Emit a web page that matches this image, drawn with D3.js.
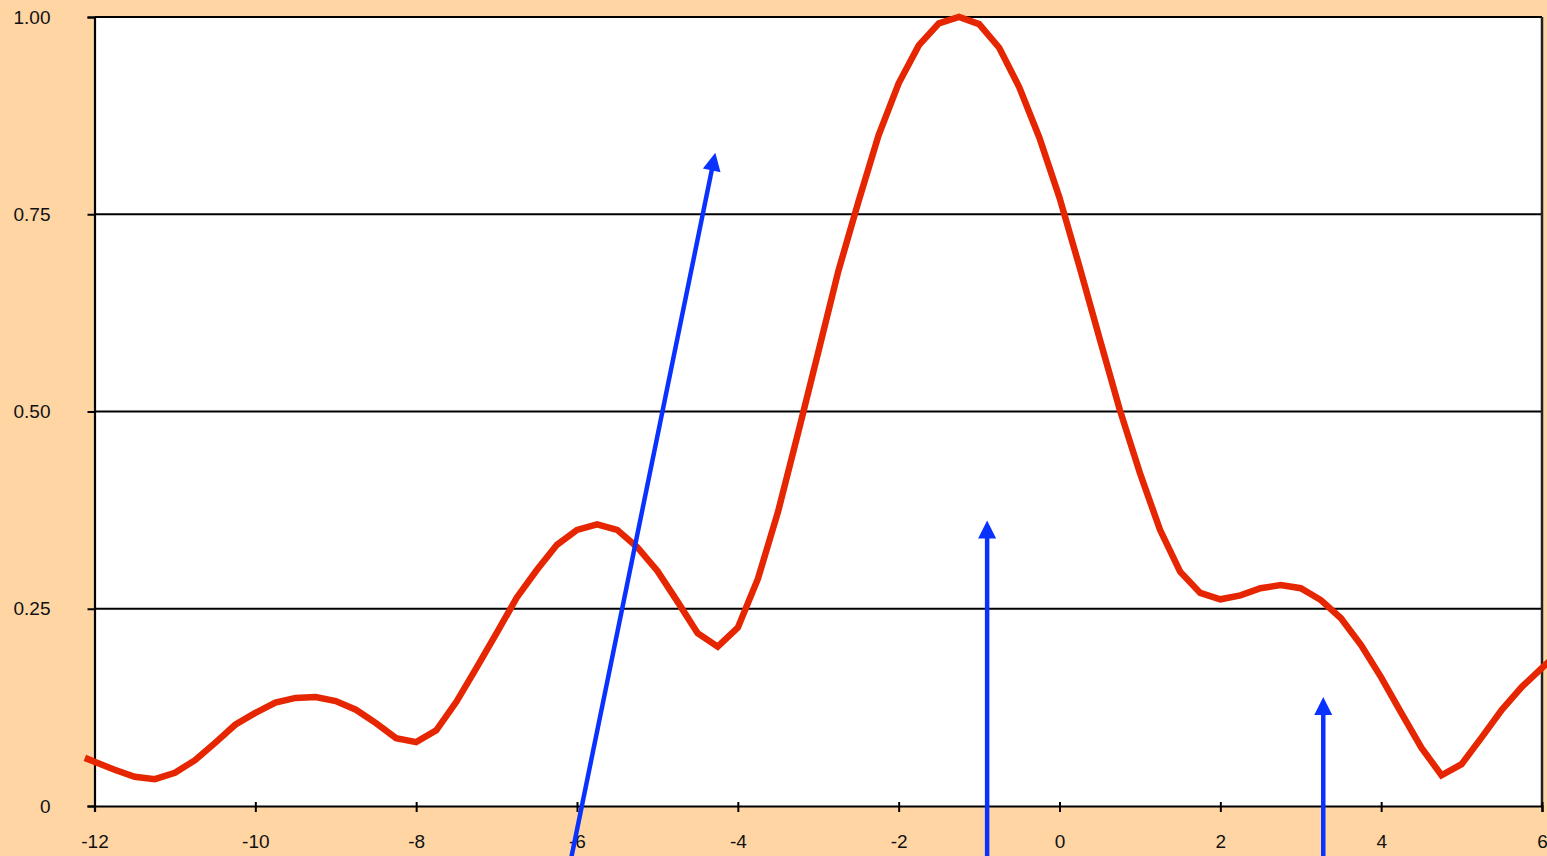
<!DOCTYPE html>
<html>
<head>
<meta charset="utf-8">
<script src="https://cdn.jsdelivr.net/npm/d3@7"></script>
<style>
  html, body { margin: 0; padding: 0; background: #FFD5A4; }
  svg { display: block; }
  .tick text { font-family: "Liberation Sans", Arial, sans-serif; font-size: 19px; fill: #111; }
</style>
</head>
<body>
<div id="chart"></div>
<script>
// chart size
var width = 1547, height = 856;
var margin = {top: 17, right: 5, bottom: 50, left: 94.5};

// the curve: x in steps of 0.25 from -12 to 6, plus the two ends that run past the frame
var curveX = [-12.12];
for (var i = 0; i <= 73; i++) curveX.push(-12 + 0.25 * i);
var curveY = [0.061,
  0.056, 0.046, 0.037, 0.034, 0.042, 0.058, 0.080, 0.103, 0.118, 0.131,
  0.137, 0.138, 0.133, 0.122, 0.105, 0.086, 0.081, 0.096, 0.132, 0.175,
  0.219, 0.264, 0.299, 0.331, 0.350, 0.357, 0.350, 0.328, 0.298, 0.259,
  0.219, 0.202, 0.226, 0.288, 0.373, 0.473, 0.575, 0.678, 0.766, 0.850,
  0.916, 0.964, 0.992, 1.000, 0.991, 0.961, 0.911, 0.847, 0.771, 0.683,
  0.592, 0.502, 0.422, 0.350, 0.297, 0.270, 0.262, 0.267, 0.276, 0.280,
  0.276, 0.261, 0.238, 0.204, 0.163, 0.118, 0.074, 0.039, 0.053, 0.087,
  0.122, 0.151, 0.175, 0.198];

// blue arrows (tail -> tip)
var arrowX0 = [-6.08, -0.90, 3.28];
var arrowY0 = [-0.07, -0.07, -0.07];
var arrowX1 = [-4.28, -0.90, 3.28];
var arrowY1 = [0.828, 0.362, 0.138];

// ticks
var xTicks = [-12, -10, -8, -6, -4, -2, 0, 2, 4, 6];
var yTicks = [0, 0.25, 0.5, 0.75, 1];
var gridValues = [0.25, 0.5, 0.75, 1];

var x = d3.scaleLinear().domain([-12, 6]).range([margin.left, width - margin.right]);
var y = d3.scaleLinear().domain([0, 1]).range([height - margin.bottom, margin.top]);

var svg = d3.select("#chart").append("svg")
    .attr("width", width)
    .attr("height", height);

// plot area
svg.append("rect")
    .attr("x", x(-12)).attr("y", y(1))
    .attr("width", x(6) - x(-12)).attr("height", y(0) - y(1))
    .style("fill", "white");

// gridlines
svg.append("g").selectAll("line")
    .data(gridValues)
    .enter().append("line")
    .attr("x1", x(-12)).attr("x2", x(6))
    .attr("y1", function(d) { return y(d); })
    .attr("y2", function(d) { return y(d); })
    .style("stroke", "black")
    .style("stroke-width", 2.2);

// right border of plot area
svg.append("line")
    .attr("x1", x(6)).attr("x2", x(6))
    .attr("y1", y(1)).attr("y2", y(0))
    .style("stroke", "#222")
    .style("stroke-width", 2.5);

// y axis
var yAxis = d3.axisLeft(y)
    .tickValues(yTicks)
    .tickSize(7)
    .tickFormat(function(d) { return d === 0 ? "0" : d3.format(".2f")(d); });

svg.append("g")
    .attr("transform", "translate(" + x(-12) + ",0)")
    .call(yAxis)
    .call(function(g) {
        g.select(".domain").style("stroke", "black").style("stroke-width", 2.2);
        g.selectAll(".tick line").style("stroke", "black").style("stroke-width", 2);
        g.selectAll(".tick text").attr("x", -44).style("text-anchor", "end");
    });

// x axis (plain hyphen for negatives, like the original)
var xAxis = d3.axisBottom(x)
    .tickValues(xTicks)
    .tickSize(6)
    .tickFormat(function(d) { return String(d); });

svg.append("g")
    .attr("transform", "translate(0," + y(0) + ")")
    .call(xAxis)
    .call(function(g) {
        g.select(".domain").style("stroke", "black").style("stroke-width", 2.2);
        g.selectAll(".tick line").attr("y1", -4).style("stroke", "black").style("stroke-width", 2);
        g.selectAll(".tick text").attr("y", 29).attr("dy", "0.71em");
    });

// red curve
var pts = curveX.map(function(d, i) { return [d, curveY[i]]; });
var line = d3.line()
    .x(function(d) { return x(d[0]); })
    .y(function(d) { return y(d[1]); });

svg.append("path")
    .datum(pts)
    .attr("d", line)
    .style("fill", "none")
    .style("stroke", "#E62600")
    .style("stroke-width", 6.5)
    .style("stroke-linejoin", "miter");

// blue arrows
var headLen = 18, headHalf = 9;
var arrows = arrowX0.map(function(d, i) {
    return {x0: x(d), y0: y(arrowY0[i]), x1: x(arrowX1[i]), y1: y(arrowY1[i])};
});

var ag = svg.append("g").attr("class", "arrows");
arrows.forEach(function(a) {
    var dx = a.x1 - a.x0, dy = a.y1 - a.y0;
    var len = Math.sqrt(dx * dx + dy * dy);
    var ux = dx / len, uy = dy / len;
    var bx = a.x1 - ux * headLen, by = a.y1 - uy * headLen;
    ag.append("line")
        .attr("x1", a.x0).attr("y1", a.y0)
        .attr("x2", bx + ux * 2).attr("y2", by + uy * 2)
        .style("stroke", "#0A32FF")
        .style("stroke-width", 4.5);
    ag.append("path")
        .attr("d", "M" + a.x1 + "," + a.y1 +
                   "L" + (bx - uy * headHalf) + "," + (by + ux * headHalf) +
                   "L" + (bx + uy * headHalf) + "," + (by - ux * headHalf) + "Z")
        .style("fill", "#0A32FF");
});
</script>
</body>
</html>
